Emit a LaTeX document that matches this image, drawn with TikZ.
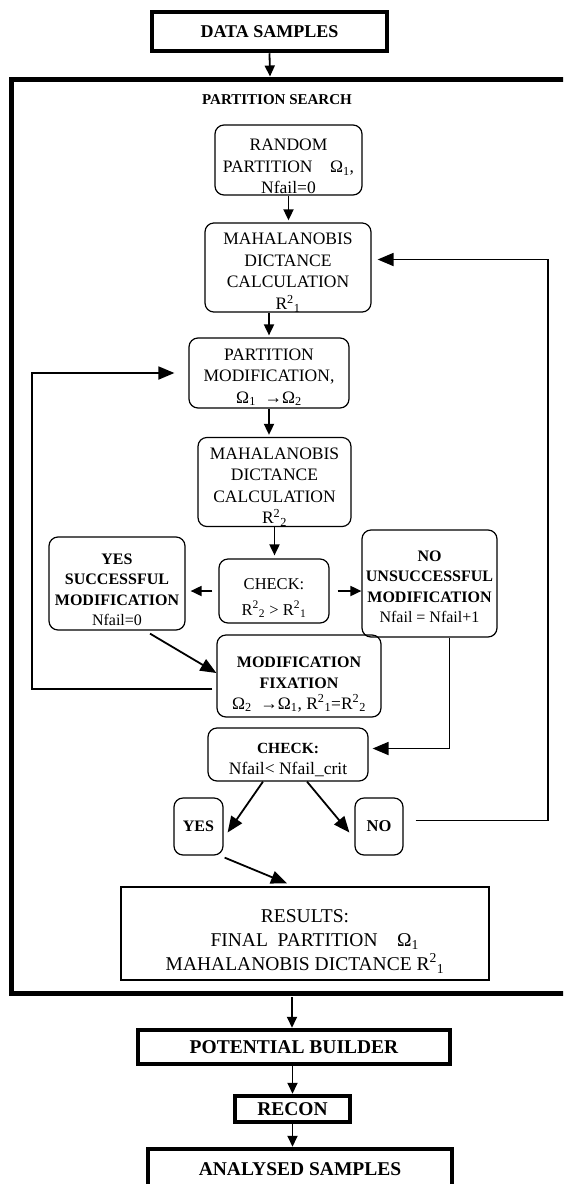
\documentclass[tikz,border=0pt]{standalone}
\usepackage{fontspec}
\setmainfont{Liberation Serif}
\usetikzlibrary{arrows.meta,calc}

\newcommand{\topgap}[1]{\rule{0pt}{#1}}

\tikzset{
  rbox/.style={draw, rounded corners=9pt, line width=1.2pt, align=center, inner sep=0pt,
    font=\fontsize{17.5}{21.5}\selectfont},
  hbox/.style={draw, line width=4.5pt, align=center, inner sep=0pt,
    font=\bfseries\fontsize{19.5}{23}\selectfont},
  >={Triangle[length=11pt,width=10pt]},
  bigtip/.style={-{Triangle[length=16pt,width=13pt]}},
}

\begin{document}
\begin{tikzpicture}[x=1pt, y=-1pt, line width=1.8pt]
  \useasboundingbox (0,0) rectangle (563,1184);
  \clip (0,0) rectangle (563,1184);

  \node[hbox, minimum width=235pt, minimum height=39pt, font=\bfseries\fontsize{18}{21}\selectfont] (ds) at (269.5,31.5) {DATA SAMPLES};

  % frame of the partition search
  \draw[line width=5pt] (580,79) -- (11.5,79) -- (11.5,993.5) -- (580,993.5);
  \coordinate (frtop) at (270,76.5);
  \coordinate (frbot) at (292,997);
  \node[font=\bfseries\fontsize{15}{18}\selectfont] (ps) at (277,100) {PARTITION SEARCH};

  \node[rbox, minimum width=147pt, minimum height=70pt] (rnd) at (288.5,160)
    {\topgap{25pt}RANDOM\\PARTITION\quad Ω\textsubscript{1},\\Nfail=0};
  \node[rbox, minimum width=166pt, minimum height=89pt] (mah1) at (288,267.5)
    {\topgap{22pt}MAHALANOBIS\\DICTANCE\\CALCULATION\\R\textsuperscript{2}\textsubscript{1}};
  \node[rbox, minimum width=160pt, minimum height=70pt] (pm) at (269,373)
    {\topgap{20pt}PARTITION\hspace{1.2em}\\MODIFICATION,\\Ω\textsubscript{1} \ →Ω\textsubscript{2}};
  \node[rbox, minimum width=153pt, minimum height=88pt] (mah2) at (274.5,482)
    {\topgap{22pt}MAHALANOBIS\\DICTANCE\\CALCULATION\\R\textsuperscript{2}\textsubscript{2}};
  \node[rbox, minimum width=110pt, minimum height=64pt, font=\fontsize{16.5}{26}\selectfont] (chk1) at (274,591)
    {\topgap{25pt}CHECK:\hspace{0.8em}\\R\textsuperscript{2}\textsubscript{2} > R\textsuperscript{2}\textsubscript{1}};
  \node[rbox, minimum width=136pt, minimum height=93pt, font=\bfseries\fontsize{16}{20.5}\selectfont] (yes1) at (117,583.5)
    {\topgap{23pt}YES\\SUCCESSFUL\\MODIFICATION\\{\mdseries Nfail=0}};
  \node[rbox, minimum width=135pt, minimum height=107pt, font=\bfseries\fontsize{16}{20.5}\selectfont] (no1) at (429.5,583.5)
    {\topgap{17pt}NO\\UNSUCCESSFUL\\MODIFICATION\\{\mdseries Nfail = Nfail+1}};
  \node[rbox, minimum width=164pt, minimum height=82pt, font=\bfseries\fontsize{16}{21}\selectfont] (mf) at (299,676)
    {\topgap{27pt}MODIFICATION\\FIXATION\\{\mdseries\fontsize{17.5}{21}\selectfont Ω\textsubscript{2} \ →Ω\textsubscript{1}, R\textsuperscript{2}\textsubscript{1}=R\textsuperscript{2}\textsubscript{2}}};
  \node[rbox, minimum width=160pt, minimum height=53pt] (chk2) at (288,754.5)
    {{\bfseries\fontsize{15.5}{21}\selectfont\topgap{21pt}CHECK:}\\Nfail< Nfail\_crit};
  \node[rbox, minimum width=49pt, minimum height=57pt, font=\bfseries\fontsize{16}{20}\selectfont] (yes2) at (198.5,826.5) {YES};
  \node[rbox, minimum width=48pt, minimum height=57pt, font=\bfseries\fontsize{16.5}{20}\selectfont] (no2) at (379,826.5) {NO};
  \node[draw, line width=1.2pt, minimum width=368pt, minimum height=93pt, align=center, inner sep=0pt,
    font=\fontsize{19.5}{24}\selectfont] (res) at (305,933.5)
    {\topgap{29pt}RESULTS:\\\quad FINAL\ \ PARTITION\quad Ω\textsubscript{1}\\MAHALANOBIS DICTANCE R\textsuperscript{2}\textsubscript{1}};

  \node[hbox, minimum width=312pt, minimum height=34pt] (pb) at (294,1047) {POTENTIAL BUILDER};
  \node[hbox, minimum width=115pt, minimum height=26pt] (rc) at (292.5,1109) {RECON};
  \node[hbox, minimum width=304pt, minimum height=41pt] (as) at (300,1169.5) {ANALYSED SAMPLES};

  \coordinate (lp) at (32,500);
  \coordinate (rp) at (548,500);

  \draw[->] (ds.south) -- (frtop);
  \draw[->, shorten >=2pt] (rnd.south) -- (rnd.south |- mah1.north);
  \draw[->, shorten >=2pt] (pm.north |- mah1.south) -- (pm.north);
  \draw[->, shorten >=2pt] (pm.south) -- (pm.south |- mah2.north);
  \draw[->, shorten >=3pt] (mah2.south) -- (mah2.south |- chk1.north);
  \draw[->, shorten <=6pt, shorten >=5pt] (chk1.west) -- (chk1.west -| yes1.east);
  \draw[->, shorten <=8pt] (chk1.east) -- (chk1.east -| no1.west);
  \draw[bigtip] ($(yes1.south)+(33,3)$) -- ($(mf.west)+(0,-3)$);
  \draw[bigtip, shorten >=14pt] ($(mf.west)+(-4,13)$) -| (lp) |- (pm.west);
  \draw[bigtip, shorten >=4pt] ($(no1.south)+(20,0)$) |- ($(chk2.east)+(0,-6)$);
  \draw[bigtip] ($(chk2.south)+(-25,0)$) -- ($(yes2.east)+(4,6)$);
  \draw[bigtip] ($(chk2.south)+(19,0)$) -- ($(no2.west)+(-5,6)$);
  \draw[bigtip] ($(yes2.south east)+(1,2)$) -- ($(res.north)+(-18,-3)$);
  \draw[bigtip, shorten >=6pt] ($(no2.east)+(12,-6)$) -| (rp) |- ($(mah1.east)+(0,-8)$);
  \draw[->] (frbot) -- (frbot |- pb.north);
  \draw[->] (rc.north |- pb.south) -- (rc.north);
  \draw[->] (rc.south) -- (rc.south |- as.north);
\end{tikzpicture}
\end{document}
